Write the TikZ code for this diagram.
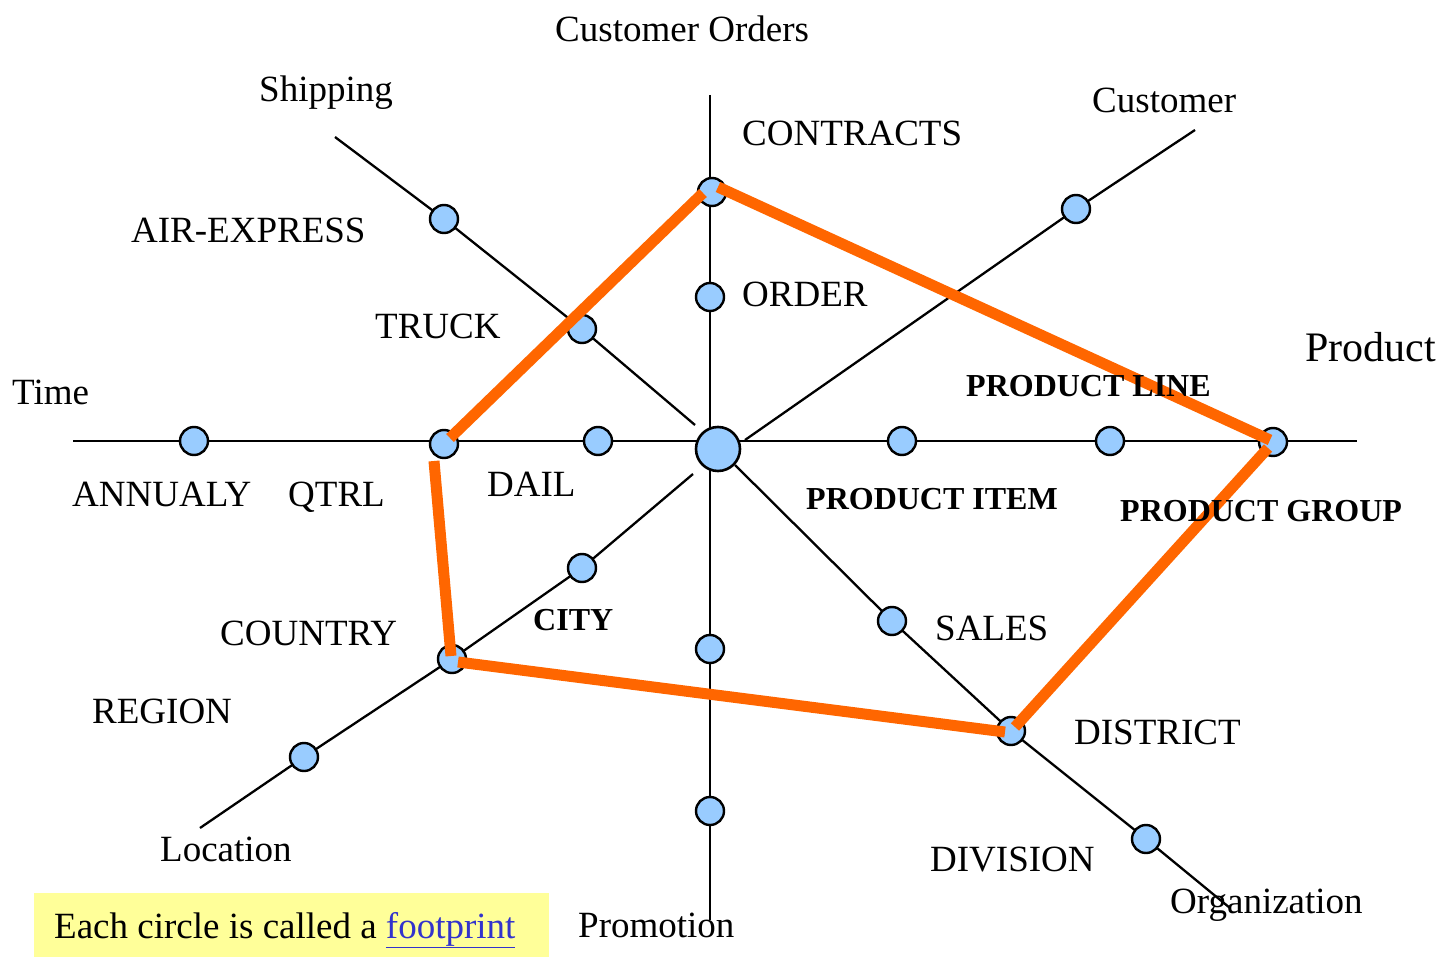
\documentclass[tikz,border=0pt]{standalone}
\usepackage{fontspec}
\setmainfont{Liberation Serif}
\definecolor{fpblue}{RGB}{153,204,255}
\definecolor{fporange}{RGB}{255,102,0}
\definecolor{fpyellow}{RGB}{255,255,153}
\definecolor{linkblue}{RGB}{51,51,204}
\begin{document}
\begin{tikzpicture}[x=1pt,y=-1pt,
 axis/.style={line width=2.3pt,black},
 fp/.style={circle,draw=black,line width=2.4pt,fill=fpblue,minimum size=28pt,inner sep=0pt},
 hub/.style={circle,draw=black,line width=2.6pt,fill=fpblue,minimum size=44pt,inner sep=0pt},
 band/.style={line width=11pt,draw=fporange},
 lab/.style={anchor=base west,inner sep=0pt,font=\fontsize{37}{40}\selectfont},
 blab/.style={anchor=base west,inner sep=0pt,font=\fontsize{32}{36}\selectfont\bfseries}]
\useasboundingbox (0,0) rectangle (1452,958);

% axis end points
\coordinate (shipEnd) at (335,137);
\coordinate (shipIn) at (695,425);
\coordinate (custEnd) at (1195,130);
\coordinate (custIn) at (745,440);
\coordinate (locEnd) at (200,828);
\coordinate (locIn) at (693,474);
\coordinate (orgEnd) at (1230,908);
\coordinate (orgIn) at (735,465);
\coordinate (topEnd) at (710,95);
\coordinate (botEnd) at (710,920);
\coordinate (leftEnd) at (73,441);
\coordinate (rightEnd) at (1357,441);

% footprint positions
\coordinate (pA) at (194,441);
\coordinate (pQ) at (444,444);
\coordinate (pD) at (598,441);
\coordinate (pAir) at (444,219);
\coordinate (pTruck) at (582,329);
\coordinate (pCon) at (712,192);
\coordinate (pOrd) at (710,297);
\coordinate (pPro1) at (710,649);
\coordinate (pPro2) at (710,811);
\coordinate (pCust) at (1076,209);
\coordinate (pItem) at (902,441);
\coordinate (pLine) at (1110,441);
\coordinate (pGroup) at (1273,442);
\coordinate (pCity) at (582,568);
\coordinate (pCountry) at (452,659);
\coordinate (pRegion) at (304,757);
\coordinate (pSales) at (892,621);
\coordinate (pDistrict) at (1011,731);
\coordinate (pDivision) at (1146,839);

% axes
\draw[axis] (leftEnd) -- (rightEnd);
\draw[axis] (topEnd) -- (botEnd);
\draw[axis] (shipEnd) -- (pAir) -- (pTruck) -- (shipIn);
\draw[axis] (custEnd) -- (pCust) -- (custIn);
\draw[axis] (locEnd) -- (pRegion) -- (pCountry) -- (pCity) -- (locIn);
\draw[axis] (orgIn) -- (pSales) -- (pDistrict) -- (pDivision) -- (orgEnd);

% circles
\node[hub] (hub) at (718,449) {};
\foreach \p in {pA,pQ,pD,pAir,pTruck,pCon,pOrd,pPro1,pPro2,pCust,pItem,pLine,pGroup,pCity,pCountry,pRegion,pSales,pDistrict,pDivision}
  \node[fp] (c\p) at (\p) {};

% orange footprint outline
\coordinate (o1a) at (703,193); \coordinate (o1b) at (450,438);
\coordinate (o2a) at (718,187); \coordinate (o2b) at (1270,440);
\coordinate (o3a) at (1268,448); \coordinate (o3b) at (1015,727);
\coordinate (o4a) at (1005,732); \coordinate (o4b) at (458,662);
\coordinate (o5a) at (434,461); \coordinate (o5b) at (451,656);
\draw[band] (o1a) -- (o1b);
\draw[band] (o2a) -- (o2b);
\draw[band] (o3a) -- (o3b);
\draw[band] (o4a) -- (o4b);
\draw[band] (o5a) -- (o5b);

% labels
\node[lab] (tCO) at (555,42) {Customer Orders};
\node[lab] (tShip) at (259,101) {Shipping};
\node[lab] (tCust) at (1092,112) {Customer};
\node[lab] (tCon) at (742,146) {CONTRACTS};
\node[lab] (tAir) at (131,242) {AIR-EXPRESS};
\node[lab] (tOrd) at (742,306) {ORDER};
\node[lab] (tTruck) at (375,338) {TRUCK};
\node[lab,font=\fontsize{42}{46}\selectfont] (tProd) at (1305,361) {Product};
\node[lab] (tTime) at (12,404) {Time};
\node[blab] (tLine) at (966,396) {PRODUCT LINE};
\node[lab] (tAnn) at (72,506) {ANNUALY};
\node[lab] (tQ) at (288,506) {QTRL};
\node[lab] (tDail) at (487,496) {DAIL};
\node[blab] (tItem) at (806,509) {PRODUCT ITEM};
\node[blab] (tGroup) at (1120,521) {PRODUCT GROUP};
\node[blab] (tCity) at (533,630) {CITY};
\node[lab] (tCountry) at (220,645) {COUNTRY};
\node[lab] (tSales) at (935,640) {SALES};
\node[lab] (tRegion) at (92,723) {REGION};
\node[lab] (tDistrict) at (1074,744) {DISTRICT};
\node[lab] (tLoc) at (160,861) {Location};
\node[lab] (tDiv) at (930,871) {DIVISION};
\node[lab] (tOrg) at (1170,913) {Organization};
\node[lab] (tPromo) at (578,937) {Promotion};

% footnote box
\fill[fpyellow] (34,893) rectangle (549,957);
\node[lab] (tNote) at (54,938) {Each circle is called a \textcolor{linkblue}{\underline{footprint}}};
\end{tikzpicture}
\end{document}
